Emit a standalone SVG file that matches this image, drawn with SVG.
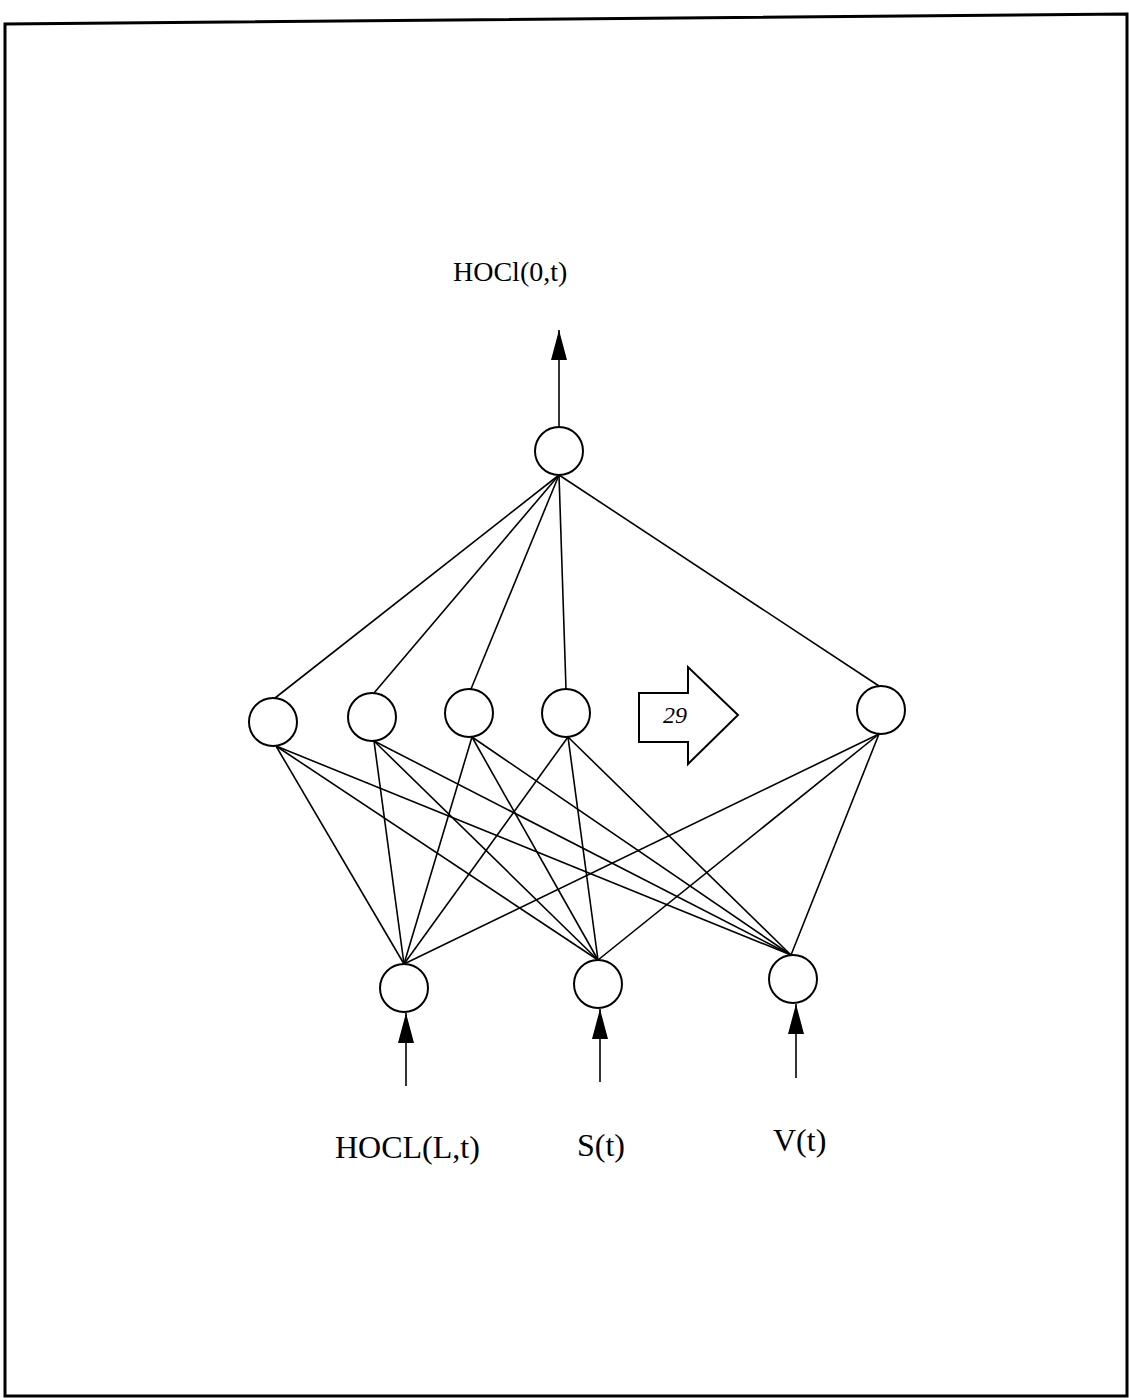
<svg xmlns="http://www.w3.org/2000/svg" width="1129" height="1400" viewBox="0 0 1129 1400">
<defs>
<style>
.n{fill:#fff;stroke:#000;stroke-width:2}
.c line{stroke:#000;stroke-width:1.6}
.lbl{font-family:"Liberation Serif","Times New Roman",serif;fill:#000}
</style>
<marker id="ah" markerUnits="userSpaceOnUse" markerWidth="30" markerHeight="16" refX="30" refY="8" orient="auto" viewBox="0 0 30 16">
<path d="M0,0 L30,8 L0,16 Z" fill="#000"/>
</marker>
</defs>
<rect width="1129" height="1400" fill="#fff"/>
<path d="M5,1396 L5,24 L1127,14 L1127,1396 Z" fill="none" stroke="#000" stroke-width="3"/>
<text class="lbl" x="453" y="281" font-size="28">HOCl(0,t)</text>
<g class="c" id="connectors">
<line x1="559" y1="427" x2="559" y2="330" marker-end="url(#ah)"/>
<line x1="406" y1="1086" x2="406" y2="1013" marker-end="url(#ah)"/>
<line x1="600" y1="1082" x2="600" y2="1009" marker-end="url(#ah)"/>
<line x1="796" y1="1078" x2="796" y2="1004" marker-end="url(#ah)"/>
<line x1="559" y1="475" x2="275" y2="698"/>
<line x1="559" y1="475" x2="374" y2="693"/>
<line x1="559" y1="475" x2="471" y2="689"/>
<line x1="559" y1="475" x2="566" y2="689"/>
<line x1="559" y1="475" x2="879" y2="686"/>
<line x1="276" y1="746" x2="404" y2="964"/>
<line x1="276" y1="746" x2="598" y2="960"/>
<line x1="276" y1="746" x2="791" y2="955"/>
<line x1="374" y1="741" x2="404" y2="964"/>
<line x1="374" y1="741" x2="598" y2="960"/>
<line x1="374" y1="741" x2="791" y2="955"/>
<line x1="472" y1="737" x2="404" y2="964"/>
<line x1="472" y1="737" x2="598" y2="960"/>
<line x1="472" y1="737" x2="791" y2="955"/>
<line x1="568" y1="737" x2="404" y2="964"/>
<line x1="568" y1="737" x2="598" y2="960"/>
<line x1="568" y1="737" x2="791" y2="955"/>
<line x1="879" y1="734" x2="404" y2="964"/>
<line x1="879" y1="734" x2="598" y2="960"/>
<line x1="879" y1="734" x2="791" y2="955"/>
</g>
<g id="out"><circle class="n" cx="559" cy="451" r="24"/></g>
<g id="h1"><circle class="n" cx="273" cy="722" r="24"/></g>
<g id="h2"><circle class="n" cx="372" cy="717" r="24"/></g>
<g id="h3"><circle class="n" cx="469" cy="713" r="24"/></g>
<g id="h4"><circle class="n" cx="566" cy="713" r="24"/></g>
<g id="h5"><circle class="n" cx="881" cy="710" r="24"/></g>
<g id="i1"><circle class="n" cx="404" cy="988" r="24"/></g>
<g id="i2"><circle class="n" cx="598" cy="984" r="24"/></g>
<g id="i3"><circle class="n" cx="793" cy="979" r="24"/></g>
<g id="callout">
<path d="M639,693 L688,693 L688,667 L738,715 L688,764 L688,742 L639,742 Z" fill="#fff" stroke="#000" stroke-width="2"/>
<text class="lbl" x="663" y="723" font-size="24" font-style="italic">29</text>
</g>
<text class="lbl" x="335" y="1158" font-size="32">HOCL(L,t)</text>
<text class="lbl" x="577" y="1156" font-size="32">S(t)</text>
<text class="lbl" x="773" y="1151" font-size="32">V(t)</text>
</svg>
